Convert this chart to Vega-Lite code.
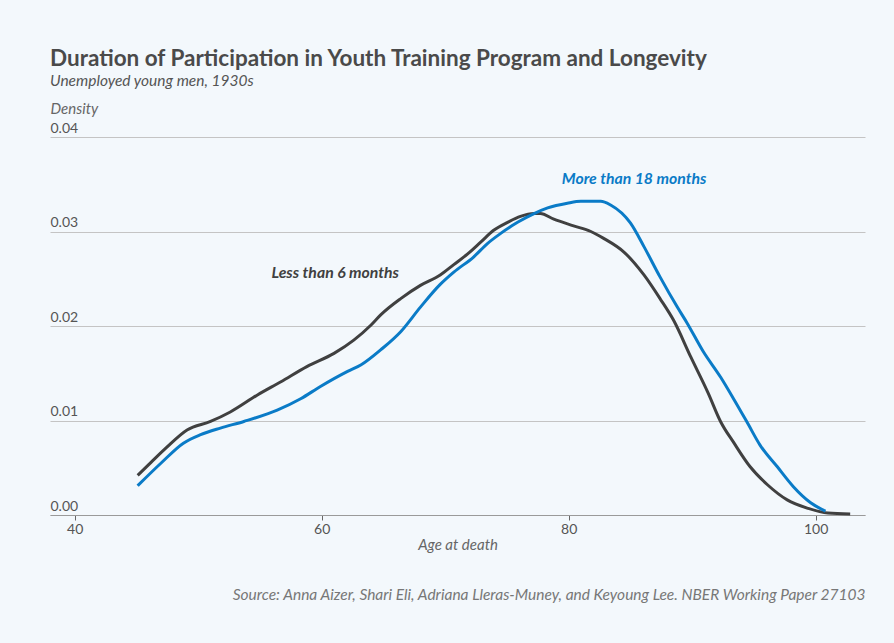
{
  "$schema": "https://vega.github.io/schema/vega-lite/v6.json",
  "width": 815,
  "height": 378,
  "padding": {"left": 50, "right": 29, "top": 48, "bottom": 40},
  "background": "#f3f8fc",
  "config": {
    "font": "Lato",
    "view": {"stroke": null},
    "axis": {"labelFont": "Lato", "titleFont": "Lato"}
  },
  "title": {
    "text": "Duration of Participation in Youth Training Program and Longevity",
    "subtitle": "Unemployed young men, 1930s",
    "anchor": "start",
    "font": "Lato",
    "fontSize": 22.5,
    "fontWeight": "bold",
    "color": "#4a4a4a",
    "subtitleFont": "Lato",
    "subtitleFontStyle": "italic",
    "subtitleFontSize": 15.5,
    "subtitleColor": "#555555",
    "subtitlePadding": 3,
    "offset": 12
  },
  "datasets": {
    "curves": [
      {"group": "Less than 6 months", "age": 45.1, "density": 0.0042},
      {"group": "Less than 6 months", "age": 46.2, "density": 0.0056},
      {"group": "Less than 6 months", "age": 47.4, "density": 0.0071},
      {"group": "Less than 6 months", "age": 49.1, "density": 0.0090},
      {"group": "Less than 6 months", "age": 51.0, "density": 0.0099},
      {"group": "Less than 6 months", "age": 52.6, "density": 0.0109},
      {"group": "Less than 6 months", "age": 54.8, "density": 0.0127},
      {"group": "Less than 6 months", "age": 56.7, "density": 0.0141},
      {"group": "Less than 6 months", "age": 58.8, "density": 0.0157},
      {"group": "Less than 6 months", "age": 61.0, "density": 0.0171},
      {"group": "Less than 6 months", "age": 62.6, "density": 0.0185},
      {"group": "Less than 6 months", "age": 64.0, "density": 0.0201},
      {"group": "Less than 6 months", "age": 64.8, "density": 0.0212},
      {"group": "Less than 6 months", "age": 66.4, "density": 0.0229},
      {"group": "Less than 6 months", "age": 68.0, "density": 0.0243},
      {"group": "Less than 6 months", "age": 69.6, "density": 0.0254},
      {"group": "Less than 6 months", "age": 70.7, "density": 0.0265},
      {"group": "Less than 6 months", "age": 71.8, "density": 0.0276},
      {"group": "Less than 6 months", "age": 72.9, "density": 0.0289},
      {"group": "Less than 6 months", "age": 73.9, "density": 0.0301},
      {"group": "Less than 6 months", "age": 75.1, "density": 0.0310},
      {"group": "Less than 6 months", "age": 76.1, "density": 0.0316},
      {"group": "Less than 6 months", "age": 77.2, "density": 0.0319},
      {"group": "Less than 6 months", "age": 77.7, "density": 0.0319},
      {"group": "Less than 6 months", "age": 78.8, "density": 0.0313},
      {"group": "Less than 6 months", "age": 80.4, "density": 0.0306},
      {"group": "Less than 6 months", "age": 81.8, "density": 0.0300},
      {"group": "Less than 6 months", "age": 82.8, "density": 0.0293},
      {"group": "Less than 6 months", "age": 84.5, "density": 0.0278},
      {"group": "Less than 6 months", "age": 86.1, "density": 0.0254},
      {"group": "Less than 6 months", "age": 87.4, "density": 0.0229},
      {"group": "Less than 6 months", "age": 88.5, "density": 0.0206},
      {"group": "Less than 6 months", "age": 89.9, "density": 0.0167},
      {"group": "Less than 6 months", "age": 91.3, "density": 0.0129},
      {"group": "Less than 6 months", "age": 92.3, "density": 0.0099},
      {"group": "Less than 6 months", "age": 93.4, "density": 0.0076},
      {"group": "Less than 6 months", "age": 94.7, "density": 0.0051},
      {"group": "Less than 6 months", "age": 96.1, "density": 0.0032},
      {"group": "Less than 6 months", "age": 97.7, "density": 0.0016},
      {"group": "Less than 6 months", "age": 99.4, "density": 0.0007},
      {"group": "Less than 6 months", "age": 101.0, "density": 0.0002},
      {"group": "Less than 6 months", "age": 102.8, "density": 0.0001},
      {"group": "More than 18 months", "age": 45.1, "density": 0.0031},
      {"group": "More than 18 months", "age": 47.0, "density": 0.0055},
      {"group": "More than 18 months", "age": 48.8, "density": 0.0076},
      {"group": "More than 18 months", "age": 50.2, "density": 0.0085},
      {"group": "More than 18 months", "age": 51.8, "density": 0.0092},
      {"group": "More than 18 months", "age": 53.7, "density": 0.0099},
      {"group": "More than 18 months", "age": 56.4, "density": 0.0111},
      {"group": "More than 18 months", "age": 58.3, "density": 0.0123},
      {"group": "More than 18 months", "age": 59.9, "density": 0.0136},
      {"group": "More than 18 months", "age": 62.1, "density": 0.0152},
      {"group": "More than 18 months", "age": 63.2, "density": 0.0159},
      {"group": "More than 18 months", "age": 64.8, "density": 0.0175},
      {"group": "More than 18 months", "age": 66.4, "density": 0.0194},
      {"group": "More than 18 months", "age": 68.0, "density": 0.0220},
      {"group": "More than 18 months", "age": 69.6, "density": 0.0244},
      {"group": "More than 18 months", "age": 70.7, "density": 0.0257},
      {"group": "More than 18 months", "age": 72.3, "density": 0.0273},
      {"group": "More than 18 months", "age": 73.4, "density": 0.0287},
      {"group": "More than 18 months", "age": 74.5, "density": 0.0298},
      {"group": "More than 18 months", "age": 75.9, "density": 0.0310},
      {"group": "More than 18 months", "age": 77.2, "density": 0.0319},
      {"group": "More than 18 months", "age": 78.3, "density": 0.0325},
      {"group": "More than 18 months", "age": 79.9, "density": 0.0330},
      {"group": "More than 18 months", "age": 81.0, "density": 0.0332},
      {"group": "More than 18 months", "age": 82.6, "density": 0.0332},
      {"group": "More than 18 months", "age": 83.4, "density": 0.0328},
      {"group": "More than 18 months", "age": 85.0, "density": 0.0309},
      {"group": "More than 18 months", "age": 86.1, "density": 0.0284},
      {"group": "More than 18 months", "age": 87.4, "density": 0.0252},
      {"group": "More than 18 months", "age": 88.8, "density": 0.0220},
      {"group": "More than 18 months", "age": 89.6, "density": 0.0203},
      {"group": "More than 18 months", "age": 90.9, "density": 0.0173},
      {"group": "More than 18 months", "age": 92.3, "density": 0.0146},
      {"group": "More than 18 months", "age": 93.4, "density": 0.0122},
      {"group": "More than 18 months", "age": 94.5, "density": 0.0097},
      {"group": "More than 18 months", "age": 95.5, "density": 0.0074},
      {"group": "More than 18 months", "age": 96.9, "density": 0.0051},
      {"group": "More than 18 months", "age": 98.2, "density": 0.0030},
      {"group": "More than 18 months", "age": 99.6, "density": 0.0013},
      {"group": "More than 18 months", "age": 100.8, "density": 0.0004}
    ],
    "labels": [
      {"group": "Less than 6 months", "age": 61.1, "density": 0.0256},
      {"group": "More than 18 months", "age": 85.3, "density": 0.0356}
    ]
  },
  "layer": [
    {
      "data": {"name": "curves"},
      "mark": {"type": "line", "strokeWidth": 3, "interpolate": "monotone"},
      "encoding": {
        "x": {
          "field": "age",
          "type": "quantitative",
          "scale": {"domain": [38, 104], "nice": false, "zero": false},
          "axis": {
            "values": [40, 60, 80, 100],
            "grid": false,
            "domainColor": "#9a9a9a",
            "tickColor": "#666666",
            "tickSize": 5,
            "labelFontSize": 14,
            "labelColor": "#555555",
            "labelPadding": 2,
            "title": "Age at death",
            "titleFontSize": 15,
            "titleFontStyle": "italic",
            "titleFontWeight": "normal",
            "titleColor": "#666666",
            "titlePadding": 1
          }
        },
        "y": {
          "field": "density",
          "type": "quantitative",
          "scale": {"domain": [0, 0.04], "nice": false},
          "axis": {
            "values": [0, 0.01, 0.02, 0.03, 0.04],
            "format": ".2f",
            "grid": true,
            "gridColor": "#c4c4c4",
            "domain": false,
            "ticks": false,
            "labelAlign": "left",
            "labelBaseline": "bottom",
            "labelPadding": 0,
            "labelOffset": -2,
            "labelFontSize": 14,
            "labelColor": "#555555",
            "title": "Density",
            "titleAngle": 0,
            "titleAlign": "left",
            "titleBaseline": "alphabetic",
            "titleX": 0,
            "titleY": -24,
            "titleFontSize": 15,
            "titleFontStyle": "italic",
            "titleFontWeight": "normal",
            "titleColor": "#666666"
          }
        },
        "color": {
          "field": "group",
          "type": "nominal",
          "scale": {"domain": ["Less than 6 months", "More than 18 months"], "range": ["#404040", "#0a7bc7"]},
          "legend": null
        }
      }
    },
    {
      "data": {"name": "labels"},
      "mark": {"type": "text", "fontSize": 15.8, "fontStyle": "italic", "fontWeight": "bold", "align": "center", "baseline": "middle"},
      "encoding": {
        "x": {
          "field": "age",
          "type": "quantitative",
          "axis": {
            "orient": "bottom",
            "labels": false,
            "ticks": false,
            "domain": false,
            "grid": false,
            "title": "Source: Anna Aizer, Shari Eli, Adriana Lleras-Muney, and Keyoung Lee. NBER Working Paper 27103",
            "titleAnchor": "end",
            "titleFontSize": 15.5,
            "titleFontStyle": "italic",
            "titleFontWeight": "normal",
            "titleColor": "#777777",
            "titlePadding": 72
          }
        },
        "y": {"field": "density", "type": "quantitative"},
        "text": {"field": "group"},
        "color": {"field": "group", "type": "nominal", "legend": null}
      }
    }
  ],
  "resolve": {"axis": {"x": "independent"}}
}
